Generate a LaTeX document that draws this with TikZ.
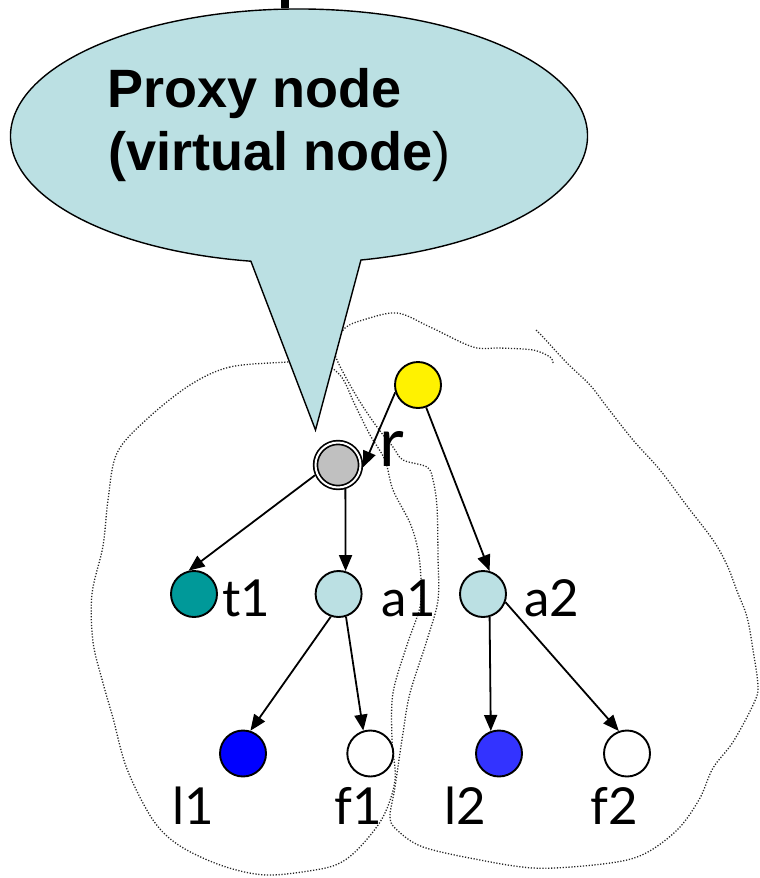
\documentclass[tikz,border=0pt]{standalone}
\usepackage{fontspec}
\setmainfont{Liberation Sans}
\newfontfamily\labfont{Lato}
\usetikzlibrary{arrows.meta}
\definecolor{bubble}{HTML}{BBE0E3}
\definecolor{tealA}{HTML}{009999}
\definecolor{blueA}{HTML}{0000FF}
\definecolor{blueB}{HTML}{3333FF}
\definecolor{grayR}{HTML}{C0C0C0}
\begin{document}
\begin{tikzpicture}[x=1pt,y=-1pt,
  vert/.style={circle, draw=black, line width=1.9pt, minimum size=46pt, inner sep=0pt},
  edge/.style={line width=1.8pt, -{Triangle[length=16pt,width=13pt]}},
  lab/.style={anchor=base west, inner sep=0pt, font=\labfont\fontsize{51}{60}\selectfont},
  btext/.style={anchor=base west, inner sep=0pt, font=\bfseries\fontsize{54}{63}\selectfont},
  region/.style={line width=1.3pt, black!85, dash pattern=on 1.2pt off 1.7pt},
]
\useasboundingbox (0,0) rectangle (760,878);

% dotted free-hand regions
\draw[region] plot[smooth cycle, tension=0.55] coordinates {
  (287,362) (230,367) (190,385) (147,419) (117,453) (108,500) (103,546) (92,594)
  (93,642) (103,683) (113,718) (127,769) (153,820) (180,846) (223,866) (266,875)
  (315,870) (340,863) (360,847) (383,817) (395,780) (392,740) (393,693) (407,645)
  (420,607) (421,580) (418,550) (410,523) (393,490) (385,460) (370,435) (355,405)
  (340,375) (315,360)};
\draw[region] plot[smooth, tension=0.55] coordinates {
  (553,363) (550,357) (533,350) (500,348) (473,347) (430,327) (397,313) (363,320)
  (345,328) (335,345) (337,360) (357,397) (377,427) (393,447) (403,460) (427,467)
  (433,480) (437,507) (438,557) (438,600) (427,640) (410,693) (403,733) (395,787)
  (390,817) (397,830) (423,847) (480,860) (533,868) (583,866) (627,860) (653,849)
  (680,827) (700,798) (713,768) (733,742) (753,705) (758,687) (753,650) (747,617)
  (737,591) (727,565) (713,540) (687,506) (660,470) (633,440) (607,407) (590,385)
  (567,363) (543,337) (535,329)};

% callout bubble
\filldraw[fill=bubble, draw=black, line width=1.4pt, line join=miter]
  (315.5,430) -- (250.9,261.2)
  arc[start angle=99.6, end angle=437.6, x radius=288.5, y radius=127] -- cycle;
\node[btext] (p1) at (107,107) {Proxy node};
\node[btext] (p2) at (108,170) {(virtual node{\mdseries )}};

% cut-off glyph at the top
\fill[black] (281,0) rectangle (289,8);

% tree nodes
\node[vert, fill=yellow] (yel) at (418,385) {};
\node[circle, draw=black, line width=1.7pt, double=white, double distance=2pt,
      fill=grayR, minimum size=45pt, inner sep=0pt, outer sep=2.7pt] (r) at (338,465) {};
\node[vert, fill=tealA] (t1) at (194,594) {};
\node[vert, fill=bubble] (a1) at (338.6,594) {};
\node[vert, fill=bubble] (a2) at (483,594) {};
\node[vert, fill=blueA] (l1) at (243,753.5) {};
\node[vert, fill=white] (f1) at (370.3,753.5) {};
\node[vert, fill=blueB] (l2) at (499,753.5) {};
\node[vert, fill=white] (f2) at (627,753.5) {};

% edges
\draw[edge] (yel.198) -- (r.-5);
\draw[edge] (yel.-70) -- (a2.74);
\draw[edge] (r.204) -- (t1.103);
\draw[edge] (r.-73) -- (a1.73);
\draw[edge] (a1.-109) -- (l1.72);
\draw[edge] (a1.-72) -- (f1.107);
\draw[edge] (a2.-74) -- (l2.110);
\draw[edge] (a2.-20) -- (f2.110);

% labels
\node[anchor=base west, inner sep=0pt, font=\labfont\fontsize{68}{76}\selectfont] (lr) at (379,466) {r};
\node[lab] (lt1) at (222,616) {t1};
\node[lab] (la1) at (381,616) {a1};
\node[lab] (la2) at (524,616) {a2};
\node[lab] (ll1) at (172,824.6) {l1};
\node[lab] (lf1) at (334,824.6) {f1};
\node[lab] (ll2) at (444,824.6) {l2};
\node[lab] (lf2) at (590,824.6) {f2};
\end{tikzpicture}
\end{document}
